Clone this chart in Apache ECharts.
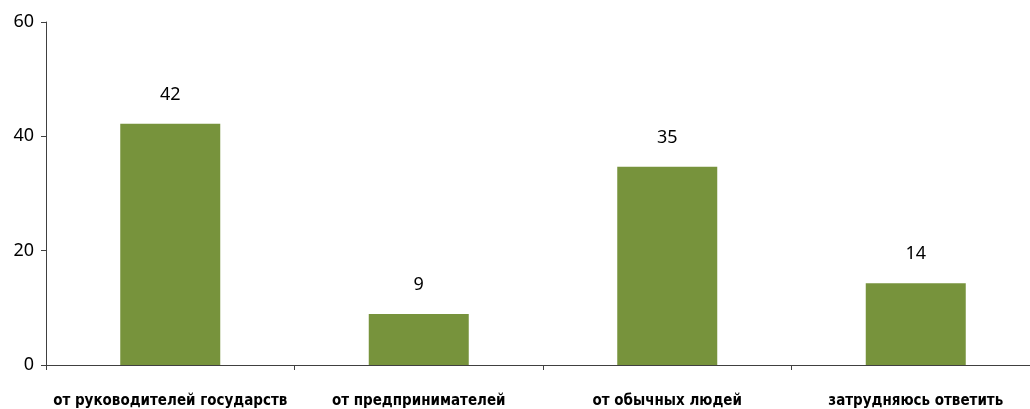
<!DOCTYPE html>
<html><head><meta charset="utf-8">
<script src="https://cdn.jsdelivr.net/npm/echarts@6/dist/echarts.min.js"></script>
<style>html,body{margin:0;padding:0;background:#fff;overflow:hidden}#c{width:1040px;height:409px}</style>
</head><body><div id="c"></div>
<script>
const categories = ['от руководителей государств', 'от предпринимателей', 'от обычных людей', 'затрудняюсь ответить'];
const values = [42.2, 8.9, 34.7, 14.3];
const yTicks = [0, 20, 40, 60];

const chart = echarts.init(document.getElementById('c'), null, {renderer: 'canvas'});
const catFont = '"Liberation Sans Narrow", "DejaVu Sans Condensed", sans-serif';
const numFont = '"Noto Sans", "Open Sans", sans-serif';
chart.setOption({
  animation: false,
  grid: {left: 46, right: 0, top: 22, bottom: 44, containLabel: false},
  xAxis: {
    type: 'category', data: categories,
    axisLine: {lineStyle: {color: '#404040', width: 1}},
    axisTick: {show: true, length: 5, inside: false, lineStyle: {color: '#404040'}},
    axisLabel: {interval: 0, margin: 29, color: '#000', fontSize: 15, fontFamily: catFont, fontWeight: 'bold'}
  },
  yAxis: {
    type: 'value', min: yTicks[0], max: yTicks[yTicks.length - 1], interval: 20,
    splitLine: {show: false},
    axisLine: {show: true, lineStyle: {color: '#404040', width: 1}},
    axisTick: {show: true, length: 5, lineStyle: {color: '#404040'}},
    axisLabel: {margin: 12, color: '#000', fontSize: 18, fontFamily: numFont}
  },
  series: [{
    type: 'bar', data: values, barWidth: 100,
    itemStyle: {color: '#77933C'},
    label: {show: true, position: 'top', distance: 20, color: '#000', fontSize: 18, fontFamily: numFont,
      formatter: p => Math.round(p.value)}
  }]
});
</script></body></html>
